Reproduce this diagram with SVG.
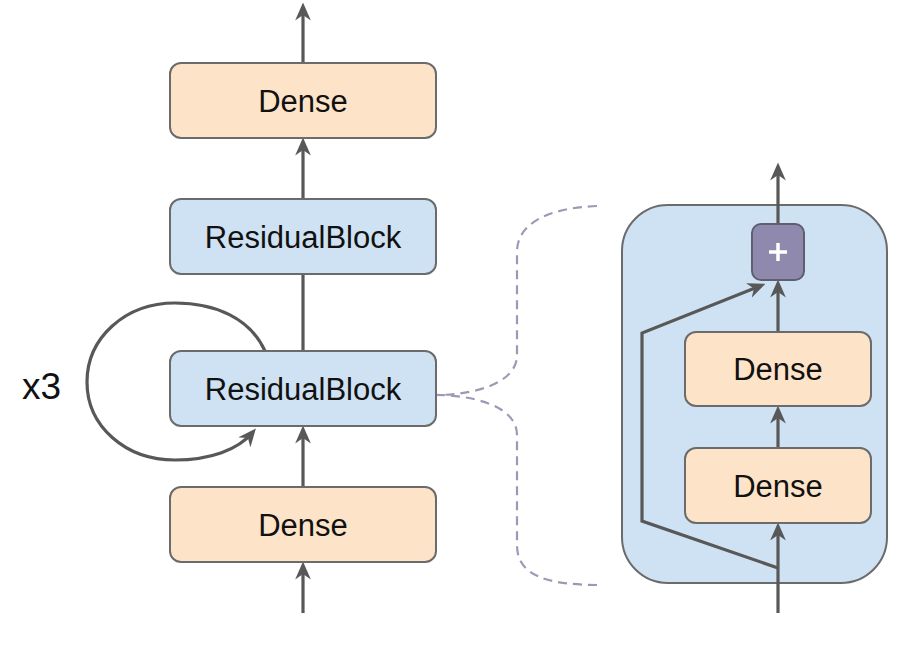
<svg xmlns="http://www.w3.org/2000/svg" width="918" height="645" viewBox="0 0 918 645">
<defs>
<style>
.orange{fill:#fde4c9;stroke:#6b6b6b;stroke-width:2}
.blue{fill:#cfe2f3;stroke:#6b6b6b;stroke-width:2}
.lbl{font-family:"Liberation Sans",Arial,sans-serif;font-size:31px;fill:#111;text-anchor:middle}
.arr{fill:none;stroke:#585858;stroke-width:3.2}
.dash{fill:none;stroke:#9d99b5;stroke-width:2.2;stroke-dasharray:9 6}
</style>
<marker id="ah" viewBox="0 0 16 14" refX="12" refY="7" markerWidth="18" markerHeight="16" markerUnits="userSpaceOnUse" orient="auto">
<path d="M0,0 L16,7 L0,14 L5,7 z" fill="#585858"/>
</marker>
</defs>
<rect width="918" height="645" fill="#fff"/>
<g id="detail-bg">
<rect x="622" y="205" width="265" height="378" rx="46" class="blue"/>
</g>
<g id="connectors">
<path class="arr" d="M303 63 V7" marker-end="url(#ah)"/>
<path class="arr" d="M303 199 V142" marker-end="url(#ah)"/>
<path class="arr" d="M303 351 V274"/>
<path class="arr" d="M303 487 V430" marker-end="url(#ah)"/>
<path class="arr" d="M303 613 V566" marker-end="url(#ah)"/>
<path class="arr" d="M265 351 C250 318 215 303 175 303 C125 303 87 338 87 382 C87 426 125 460 175 460 C210 460 238 450 253 432" marker-end="url(#ah)"/>
<path class="arr" d="M778 224 V167" marker-end="url(#ah)"/>
<path class="arr" d="M778 332 V284" marker-end="url(#ah)"/>
<path class="arr" d="M778 448 V410" marker-end="url(#ah)"/>
<path class="arr" d="M778 613 V527" marker-end="url(#ah)"/>
<path class="arr" d="M778 568 L642 521 L642 333 L761.3 285.5" marker-end="url(#ah)"/>
<path class="dash" d="M597 206 C545 208 517 225 517 252 V355 C517 385 470 395 436 395"/>
<path class="dash" d="M436 395 C470 395 517 405 517 435 V545 C517 575 545 585 600 585"/>
</g>
<g id="dense-top">
<rect x="170" y="63" width="266" height="75" rx="11" class="orange"/>
<text x="303" y="112" class="lbl">Dense</text>
</g>
<g id="resblock-top">
<rect x="170" y="199" width="266" height="75" rx="11" class="blue"/>
<text x="303" y="248" class="lbl">ResidualBlock</text>
</g>
<g id="resblock-mid">
<rect x="170" y="351" width="266" height="75" rx="11" class="blue"/>
<text x="303" y="400" class="lbl">ResidualBlock</text>
</g>
<g id="dense-bottom">
<rect x="170" y="487" width="266" height="75" rx="11" class="orange"/>
<text x="303" y="536" class="lbl">Dense</text>
</g>
<g id="x3-label">
<text x="22" y="399" font-family="Liberation Sans, Arial, sans-serif" font-size="37" fill="#111">x3</text>
</g>
<g id="plus">
<rect x="752" y="224" width="52" height="56" rx="9" fill="#8f8aad" stroke="#5e5e6e" stroke-width="2"/>
<path d="M778 243 V261 M769 252 H787" stroke="#fff" stroke-width="3.5" fill="none"/>
</g>
<g id="dense-inner-upper">
<rect x="685" y="332" width="186" height="74" rx="11" class="orange"/>
<text x="778" y="380" class="lbl">Dense</text>
</g>
<g id="dense-inner-lower">
<rect x="685" y="448" width="186" height="75" rx="11" class="orange"/>
<text x="778" y="497" class="lbl">Dense</text>
</g>
</svg>
